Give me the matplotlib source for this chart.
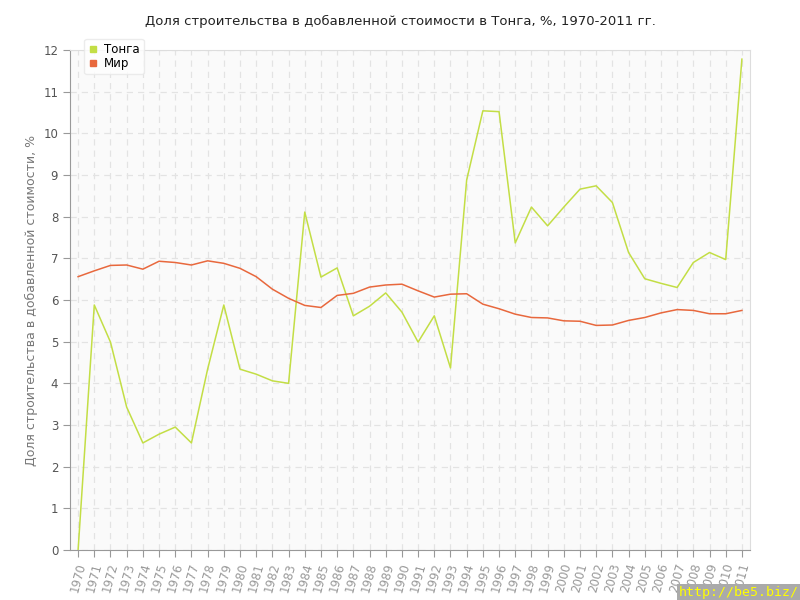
import matplotlib.pyplot as plt
from matplotlib.lines import Line2D

years = list(range(1970, 2012))

tonga = [0.0, 5.88, 4.99, 3.43, 2.57, 2.78, 2.95, 2.57, 4.34, 5.88,
         4.34, 4.22, 4.06, 4.00, 8.11, 6.55, 6.77, 5.62, 5.85, 6.17,
         5.71, 4.99, 5.62, 4.37, 8.88, 10.54, 10.52, 7.37, 8.23, 7.78,
         8.23, 8.66, 8.74, 8.34, 7.14, 6.51, 6.40, 6.30, 6.90, 7.14,
         6.97, 11.78]

world = [6.56, 6.70, 6.83, 6.84, 6.74, 6.93, 6.90, 6.84, 6.94, 6.88,
         6.76, 6.56, 6.26, 6.04, 5.87, 5.82, 6.11, 6.16, 6.31, 6.36,
         6.38, 6.22, 6.07, 6.14, 6.15, 5.90, 5.79, 5.66, 5.58, 5.57,
         5.50, 5.49, 5.39, 5.40, 5.51, 5.58, 5.69, 5.77, 5.75, 5.67,
         5.67, 5.75]

tonga_color = "#c3de45"
world_color = "#e8683d"

fig = plt.figure(figsize=(8, 6), dpi=100)
ax = fig.add_axes([0.0875, 0.0833, 0.85, 0.8334])
ax.set_facecolor("#fafafa")

ax.plot(years, tonga, color=tonga_color, lw=1.1, zorder=3)
ax.plot(years, world, color=world_color, lw=1.1, zorder=3)

ax.set_xlim(1969.5, 2011.5)
ax.set_ylim(0, 12)
ax.set_xticks(years)
ax.set_xticklabels([str(y) for y in years], rotation=75, fontsize=8.5)
ax.set_yticks(range(0, 13))
ax.tick_params(axis="y", labelsize=8.5, colors="#999999", length=5, labelcolor="#555555")
ax.tick_params(axis="x", length=5, colors="#999999", labelcolor="#999999")

ax.grid(True, color="#e3e3e3", linestyle=(0, (5, 4)), lw=0.9, zorder=0)
for side in ["left", "bottom"]:
    ax.spines[side].set_color("#999999")
for side in ["top", "right"]:
    ax.spines[side].set_color("#dddddd")

ax.set_ylabel("Доля строительства в добавленной стоимости, %", color="#777777", fontsize=9)
fig.suptitle("Доля строительства в добавленной стоимости в Тонга, %, 1970-2011 гг.",
             y=0.975, fontsize=9.5, color="#222222")

# legend with small square markers, box overlapping the top of the plot
handles = [
    Line2D([], [], ls="none", marker="s", ms=5, color=tonga_color, label="Тонга"),
    Line2D([], [], ls="none", marker="s", ms=5, color=world_color, label="Мир"),
]
leg = fig.legend(handles=handles, loc="upper left", bbox_to_anchor=(0.098, 0.945),
                 fontsize=8.5, handlelength=0.8, handletextpad=0.5,
                 borderpad=0.35, labelspacing=0.1, frameon=True, fancybox=True,
                 shadow=False)
leg.get_frame().set_edgecolor("#e8e8e8")
leg.get_frame().set_facecolor("white")

fig.text(0.999, 0.002, "http://be5.biz/", color="#ffff00", fontsize=9.5,
         ha="right", va="bottom", family="DejaVu Sans Mono",
         bbox=dict(facecolor="#aaaaaa", edgecolor="none", pad=1.5))

fig.savefig("out.png", dpi=100)
